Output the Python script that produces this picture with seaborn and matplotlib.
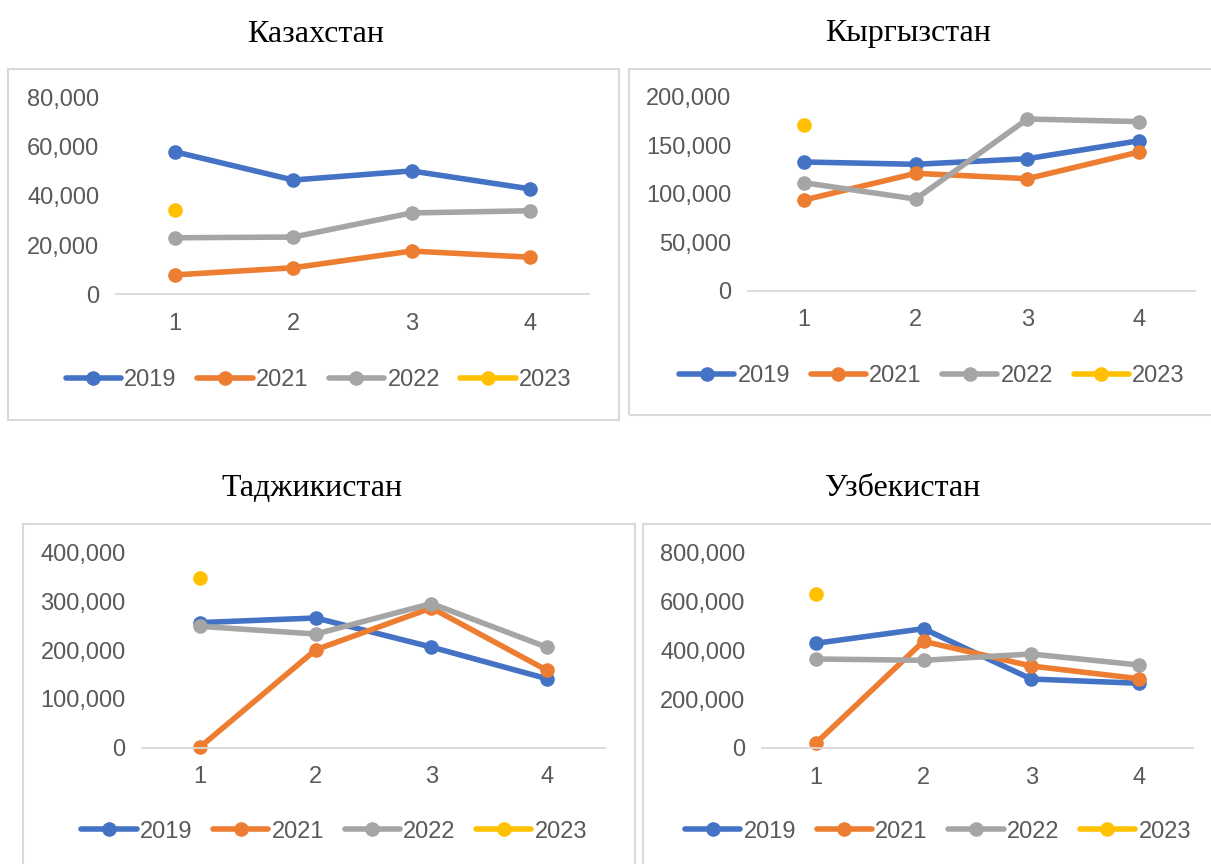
# coding: utf-8
import matplotlib
matplotlib.use('Agg')
import matplotlib.pyplot as plt
from matplotlib.patches import Rectangle
from matplotlib.lines import Line2D
from matplotlib.ticker import FuncFormatter
import numpy as np
import pandas as pd
import seaborn as sns

sns.set_style("white")
plt.rcParams['font.family'] = ['Liberation Sans', 'DejaVu Sans']

# ## Data

quarters = [1, 2, 3, 4]
years = ['2019', '2021', '2022', '2023']
countries = ['Казахстан', 'Кыргызстан', 'Таджикистан', 'Узбекистан']

kaz_2019 = [58000, 46500, 50200, 42900]
kaz_2021 = [7900, 10800, 17600, 15100]
kaz_2022 = [23000, 23300, 33100, 34000]
kaz_2023 = [34400]

kgz_2019 = [132700, 130300, 136100, 154600]
kgz_2021 = [93500, 121000, 115500, 143000]
kgz_2022 = [111300, 94500, 177000, 174300]
kgz_2023 = [170800]

tjk_2019 = [256600, 266100, 206400, 141300]
tjk_2021 = [1400, 201000, 286700, 158500]
tjk_2022 = [249000, 233200, 295700, 205800]
tjk_2023 = [347200]

uzb_2019 = [428000, 487700, 282100, 264500]
uzb_2021 = [19200, 436200, 335200, 283300]
uzb_2022 = [363800, 358500, 384300, 339300]
uzb_2023 = [628300]

y_max = [80000, 200000, 400000, 800000]
y_step = [20000, 50000, 100000, 200000]

series = [
    [kaz_2019, kaz_2021, kaz_2022, kaz_2023],
    [kgz_2019, kgz_2021, kgz_2022, kgz_2023],
    [tjk_2019, tjk_2021, tjk_2022, tjk_2023],
    [uzb_2019, uzb_2021, uzb_2022, uzb_2023],
]

colors = {'2019': '#4472C4', '2021': '#ED7D31', '2022': '#A5A5A5', '2023': '#FFC000'}
grey_txt = '#595959'
border = '#D9D9D9'

# ## Layout in pixels (x0, x1, y_top, y_bottom)
W, H = 1211, 864
axes_px = [(115.8, 589, 97.7, 294.3),
           (748.2, 1195, 96.7, 290.7),
           (142.3, 605, 552.7, 747.7),
           (762, 1192.7, 552.3, 748)]
box_px = [(8.3, 619.3, 69.3, 420),
          (629, 1220, 69.3, 415),
          (23.3, 635, 524.3, 880),
          (642.7, 1220, 524.3, 880)]
title_px = [(316, 41.5), (908, 41.5), (312, 496.5), (903, 496.5)]
legend_px = [(318.6, 380), (931.9, 376), (334.3, 831.7), (938, 831.7)]

fig = plt.figure(figsize=(W / 100, H / 100), dpi=100)

for i, country in enumerate(countries):
    x0, x1, yt, yb = axes_px[i]
    ax = fig.add_axes([x0 / W, 1 - yb / H, (x1 - x0) / W, (yb - yt) / H])

    rows = []
    for year, vals in zip(years, series[i]):
        for q, v in zip(quarters, vals):
            rows.append({'quarter': q, 'value': v, 'year': year})
    df = pd.DataFrame(rows)

    sns.lineplot(data=df, x='quarter', y='value', hue='year', hue_order=years,
                 palette=colors, marker='o', markersize=10.5, markeredgewidth=0,
                 linewidth=4.0, errorbar=None, legend=False, ax=ax)

    ax.set_xlim(0.5, 4.5)
    ax.set_ylim(0, y_max[i])
    ax.set_xticks(quarters)
    ax.set_yticks(np.arange(0, y_max[i] + 1, y_step[i]))
    ax.yaxis.set_major_formatter(FuncFormatter(lambda v, p: '{:,}'.format(int(v))))
    ax.tick_params(axis='both', length=0, labelsize=17, labelcolor=grey_txt)
    ax.tick_params(axis='y', pad=12)
    ax.tick_params(axis='x', pad=13.5)
    ax.set_xlabel('')
    ax.set_ylabel('')
    for s in ['top', 'left', 'right']:
        ax.spines[s].set_visible(False)
    ax.spines['bottom'].set_color(border)
    ax.spines['bottom'].set_linewidth(1.3)
    ax.patch.set_alpha(0)
    for ln in ax.lines:
        ln.set_clip_on(False)

    # box round each chart
    bx0, bx1, byt, byb = box_px[i]
    fig.add_artist(Rectangle((bx0 / W, 1 - byb / H), (bx1 - bx0) / W, (byb - byt) / H,
                             transform=fig.transFigure, fill=False, ec=border, lw=1.5))

    tx, ty = title_px[i]
    fig.text(tx / W, 1 - ty / H, country, ha='center', va='baseline',
             fontsize=23, family=['Liberation Serif', 'DejaVu Serif'], color='black')

    handles = [Line2D([0], [0], color=colors[y], lw=4.0, marker='o', markersize=10.5,
                      markeredgewidth=0) for y in years]
    lx, ly = legend_px[i]
    fig.legend(handles, years, loc='center', bbox_to_anchor=(lx / W, 1 - ly / H),
               ncol=4, frameon=False, fontsize=17, labelcolor=grey_txt,
               handlelength=2.34, handletextpad=0.14, columnspacing=0.87,
               borderpad=0, numpoints=1)

fig.savefig('out.png', dpi=100)
